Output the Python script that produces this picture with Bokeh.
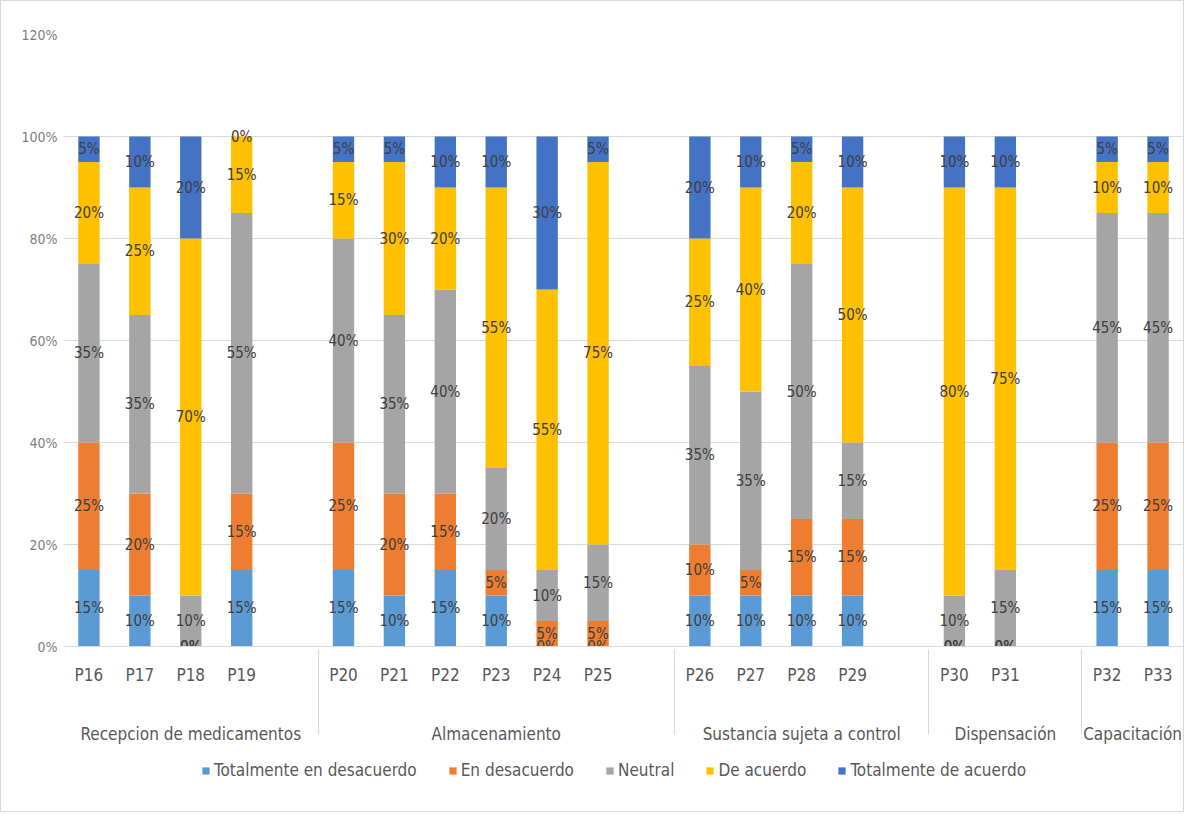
from bokeh.plotting import figure
from bokeh.layouts import column
from bokeh.models import (FactorRange, Range1d, ColumnDataSource, Legend, LegendItem,
                          NumeralTickFormatter, FixedTicker)
from bokeh.core.properties import value
from bokeh.embed import file_html
from bokeh.resources import INLINE

# ---- data ----
groups = ["Recepcion de medicamentos", "Almacenamiento", "Sustancia sujeta a control",
          "Dispensación", "Capacitación"]
group_questions = [["P16", "P17", "P18", "P19"],
                   ["P20", "P21", "P22", "P23", "P24", "P25"],
                   ["P26", "P27", "P28", "P29"],
                   ["P30", "P31"],
                   ["P32", "P33"]]
series = ["Totalmente en desacuerdo", "En desacuerdo", "Neutral", "De acuerdo",
          "Totalmente de acuerdo"]
tot_desacuerdo = [15, 10, 0, 15, 15, 10, 15, 10, 0, 0, 10, 10, 10, 10, 0, 0, 15, 15]
en_desacuerdo = [25, 20, 0, 15, 25, 20, 15, 5, 5, 5, 10, 5, 15, 15, 0, 0, 25, 25]
neutral = [35, 35, 10, 55, 40, 35, 40, 20, 10, 15, 35, 35, 50, 15, 10, 15, 45, 45]
de_acuerdo = [20, 25, 70, 15, 15, 30, 20, 55, 55, 75, 25, 40, 20, 50, 80, 75, 10, 10]
tot_acuerdo = [5, 10, 20, 0, 5, 5, 10, 10, 30, 5, 20, 10, 5, 10, 10, 10, 5, 5]
y_ticks = [0, 0.2, 0.4, 0.6, 0.8, 1.0, 1.2]

colors = ["#5B9BD5", "#ED7D31", "#A5A5A5", "#FFC000", "#4472C4"]
FONT = "Liberation Sans Narrow, DejaVu Sans Condensed, Roboto"

# ---- build factors (blank slot at end of each group except last, as in Excel) ----
x = []
factors = []
for gi, (g, qs) in enumerate(zip(groups, group_questions)):
    for q in qs:
        x.append((g, q))
        factors.append((g, q))
    if gi < len(groups) - 1:
        factors.append((g, "\n"))

all_series = [tot_desacuerdo, en_desacuerdo, neutral, de_acuerdo, tot_acuerdo]
keys = ["s0", "s1", "s2", "s3", "s4"]
data = {"x": x}
for k, s in zip(keys, all_series):
    data[k] = [v / 100 for v in s]
source = ColumnDataSource(data)

# label positions
lx, ly, lt = [], [], []
for i in range(len(x)):
    base = 0.0
    for s in all_series:
        v = s[i] / 100
        lx.append(x[i])
        ly.append(base + v / 2)
        lt.append(f"{s[i]}%")
        base += v
lsource = ColumnDataSource(dict(x=lx, y=ly, t=lt))

xr = FactorRange(*factors, factor_padding=0, group_padding=0, range_padding=0)
p = figure(width=1182, height=752, output_backend="svg", toolbar_location=None,
           x_range=xr, y_range=Range1d(0, 1.2),
           min_border_left=62, min_border_right=0, min_border_top=33, min_border_bottom=107)

renderers = p.vbar_stack(keys, x="x", width=0.42, color=colors, source=source, line_width=0)

p.text(x="x", y="y", text="t", source=lsource, text_align="center", text_baseline="middle",
       text_font_size="15px", text_color="#404040", text_font=value(FONT))

# axes styling
p.outline_line_color = None
p.xgrid.grid_line_color = None
p.ygrid.grid_line_color = "#d9d9d9"
p.ygrid.ticker = FixedTicker(ticks=y_ticks)

p.yaxis.ticker = FixedTicker(ticks=y_ticks)
p.yaxis.formatter = NumeralTickFormatter(format="0%")
p.yaxis.axis_line_color = None
p.yaxis.major_tick_line_color = None
p.yaxis.minor_tick_line_color = None
p.yaxis.major_tick_out = 0
p.yaxis.major_tick_in = 0
p.yaxis.major_label_text_color = "#808080"
p.yaxis.major_label_text_font_size = "14px"
p.yaxis.major_label_text_font = FONT
p.yaxis.major_label_standoff = 6

xa = p.xaxis[0]
xa.axis_line_color = "#d9d9d9"
xa.major_tick_line_color = None
xa.minor_tick_line_color = None
xa.major_label_text_color = "#595959"
xa.major_label_text_font_size = "17px"
xa.major_label_text_font = FONT
xa.major_label_standoff = 12
xa.group_text_color = "#595959"
xa.group_text_font_size = "17px"
xa.group_text_font_style = "normal"
xa.group_text_font = FONT
xa.separator_line_color = "#d9d9d9"
xa.separator_line_width = 1

# ---- legend row (separate strip under the chart) ----
lg = figure(width=1182, height=58, output_backend="svg", toolbar_location=None,
            x_axis_type=None, y_axis_type=None, x_range=xr, y_range=Range1d(2, 3),
            min_border_left=0, min_border_right=0, min_border_top=0, min_border_bottom=0)
lg.outline_line_color = None
lg.xgrid.grid_line_color = None
lg.ygrid.grid_line_color = None
# same stacked series, drawn outside the strip's visible range: used only for legend swatches
swatches = lg.vbar_stack(keys, x="x", width=0.42, color=colors, source=source, line_width=0)
legend = Legend(items=[LegendItem(label=s, renderers=[r]) for s, r in zip(series, swatches)],
                orientation="horizontal", location=(138, 31),
                label_text_font_size="17px", label_text_color="#595959", label_text_font=FONT,
                glyph_width=9, glyph_height=9, label_standoff=4, spacing=31,
                border_line_color=None, background_fill_alpha=0, padding=0, margin=0)
lg.add_layout(legend)

layout = column(p, lg, spacing=0, styles={"border": "1px solid #d9d9d9"})

open("out.html", "w").write(file_html(layout, INLINE))
